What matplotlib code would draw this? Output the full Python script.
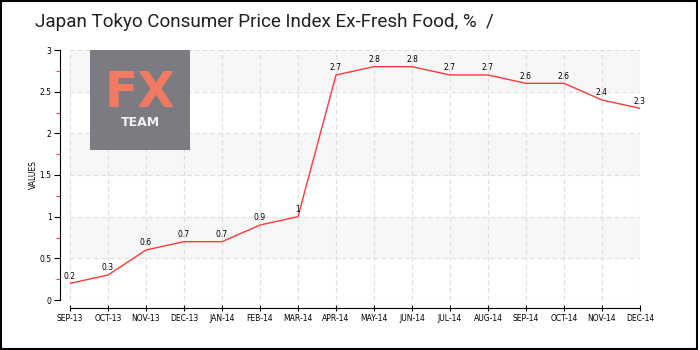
import matplotlib.pyplot as plt
from matplotlib.patches import Rectangle
import numpy as np

months = ["SEP-13", "OCT-13", "NOV-13", "DEC-13", "JAN-14", "FEB-14", "MAR-14", "APR-14",
          "MAY-14", "JUN-14", "JUL-14", "AUG-14", "SEP-14", "OCT-14", "NOV-14", "DEC-14"]
values = [0.2, 0.3, 0.6, 0.7, 0.7, 0.9, 1.0, 2.7, 2.8, 2.8, 2.7, 2.7, 2.6, 2.6, 2.4, 2.3]
labels = ["0.2", "0.3", "0.6", "0.7", "0.7", "0.9", "1", "2.7", "2.8", "2.8",
          "2.7", "2.7", "2.6", "2.6", "2.4", "2.3"]
yticks = [0, 0.5, 1, 1.5, 2, 2.5, 3]
ytick_labels = ["0", "0.5", "1", "1.5", "2", "2.5", "3"]

fig = plt.figure(figsize=(7, 3.5), dpi=100)
fig.patch.set_facecolor("white")
# figure frame
fig.patches.append(Rectangle((0.001, 0.003), 0.994, 0.994, transform=fig.transFigure,
                             fill=False, edgecolor="black", linewidth=1.5))

ax = fig.add_axes([70 / 700, 50 / 350, 570 / 700, 250 / 350])
x = np.arange(len(months))

# shaded bands
for lo in [0.5, 1.5, 2.5]:
    ax.axhspan(lo, lo + 0.5, color="#f7f7f7", zorder=0)

ax.plot(x, values, color="#ff3838", linewidth=1.0, zorder=3)
for xi, v, lab in zip(x, values, labels):
    ax.annotate(lab, (xi, v), xytext=(0, 2), textcoords="offset points",
                ha="center", va="bottom", fontsize=5.5, color="black", zorder=4)

ax.set_xlim(0, len(months) - 1)
ax.set_ylim(0, 3)
ax.set_xticks(x)
ax.set_xticklabels(months)
ax.set_yticks(yticks)
ax.set_yticklabels(ytick_labels)
ax.set_yticks([0.25, 0.75, 1.25, 1.75, 2.25, 2.75], minor=True)

ax.grid(True, which="major", linestyle=(0, (4, 3)), color="#dddddd", linewidth=0.8)
ax.set_axisbelow(True)

for s in ["top", "right"]:
    ax.spines[s].set_visible(False)
ax.spines["left"].set_position(("outward", 7.2))
ax.spines["bottom"].set_position(("outward", 5.8))
ax.spines["left"].set_linewidth(0.8)
ax.spines["bottom"].set_linewidth(0.8)

ax.tick_params(axis="y", which="major", length=4, width=0.8, labelsize=5.5, pad=2)
ax.tick_params(axis="y", which="minor", length=3, width=0.8, color="#ff3838")
ax.tick_params(axis="x", which="major", direction="inout", length=5, width=0.8,
               labelsize=5.5, pad=2)

ax.set_ylabel("VALUES", fontsize=5.5, labelpad=1)

fig.text(35 / 700, 1 - 22 / 350, "Japan Tokyo Consumer Price Index Ex-Fresh Food, %  /",
         fontsize=13.6, family="Roboto", va="center", ha="left", color="#222222")

# logo
fig.patches.append(Rectangle((90 / 700, 1 - 150 / 350), 100 / 700, 100 / 350,
                             transform=fig.transFigure, facecolor="#7b7b81",
                             edgecolor="none", zorder=5))
fig.text(140 / 700, 1 - 93 / 350, "FX", fontsize=35, color="#f07a62", ha="center",
         va="center", fontweight="bold", family="DejaVu Sans", zorder=6)
fig.text(140 / 700, 1 - 122 / 350, "TEAM", fontsize=9, color="#f2f2f2", ha="center",
         va="center", fontweight="bold", family="DejaVu Sans", zorder=6)

fig.savefig("out.png", dpi=100)
